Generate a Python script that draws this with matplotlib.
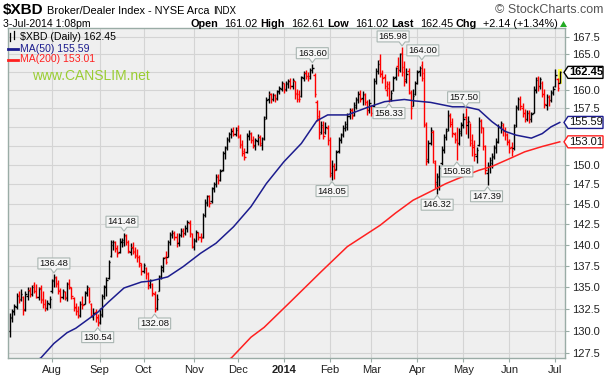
import pandas as pd
import matplotlib
matplotlib.use('Agg')
import matplotlib.pyplot as plt
from matplotlib.collections import LineCollection
from matplotlib.patches import Polygon, Rectangle
from matplotlib.lines import Line2D
from matplotlib.transforms import IdentityTransform
from matplotlib.ticker import FixedLocator, NullLocator

W, H = 606, 376
plt.rcParams['font.family'] = ['Liberation Sans', 'DejaVu Sans']

# trading days 5-Jul-2013 .. 3-Jul-2014
holidays = ['2013-09-02', '2013-11-28', '2013-12-25', '2014-01-01',
            '2014-01-20', '2014-02-17', '2014-04-18', '2014-05-26']
dates = pd.bdate_range('2013-07-05', '2014-07-03', freq='C', holidays=holidays)

# daily OHLC (one line per month)
opens = [
    130.0, 131.5, 132.1, 132.7, 134.1, 133.6, 133.8, 132.5, 134.0, 134.7, 134.2, 135.2, 134.5, 133.8, 134.9, 133.6, 133.1, 132.6, 133.0,
    134.5, 135.7, 136.1, 135.4, 134.7, 133.9, 134.4, 133.7, 135.5, 134.9, 133.7, 132.7, 132.3, 131.8, 133.1, 133.1, 134.3, 134.8, 133.1, 131.6, 132.1, 131.6,
    131.0, 131.9, 134.0, 135.1, 136.1, 138.7, 140.0, 140.3, 139.5, 139.2, 140.3, 140.4, 141.1, 140.3, 139.2, 139.8, 139.3, 138.7, 138.5, 137.6,
    136.9, 137.2, 136.5, 135.2, 135.4, 134.2, 132.6, 134.6, 136.3, 137.0, 138.5, 138.6, 140.3, 141.2, 141.5, 141.0, 140.2, 141.2, 141.8, 141.4, 142.0, 142.7, 141.3,
    139.8, 140.6, 141.5, 141.0, 141.0, 143.7, 145.2, 146.0, 145.4, 147.0, 147.5, 148.6, 148.1, 149.4, 151.5, 152.3, 153.3, 154.0, 154.6, 154.1,
    154.8, 153.7, 152.7, 151.8, 151.7, 153.8, 154.1, 153.3, 152.5, 153.1, 153.7, 152.6, 153.5, 156.3, 158.7, 159.4, 158.8, 159.3, 158.9, 159.7, 160.2,
    160.9, 160.1, 160.8, 161.3, 160.6, 161.2, 159.6, 159.4, 159.2, 161.6, 162.4, 162.0, 161.9, 162.8, 162.1, 158.4, 156.5, 154.3, 155.0, 154.3, 154.8,
    153.2, 148.9, 149.9, 149.5, 151.8, 153.2, 154.0, 154.8, 155.0, 156.4, 157.3, 156.6, 157.7, 158.6, 159.6, 158.9, 159.3, 158.3, 157.3,
    157.8, 157.8, 161.2, 162.7, 164.2, 162.4, 161.8, 160.0, 160.8, 158.8, 160.0, 161.8, 163.4, 162.8, 165.2, 163.2, 161.5, 162.6, 159.6, 157.8, 159.5,
    161.0, 162.6, 163.5, 162.4, 155.2, 150.8, 152.9, 154.3, 150.2, 147.8, 148.6, 150.3, 152.0, 153.6, 154.7, 156.4, 155.6, 154.0, 153.4, 152.9, 154.2,
    155.4, 156.3, 155.2, 155.6, 153.2, 152.6, 151.2, 152.6, 155.9, 154.9, 152.4, 149.0, 149.8, 150.3, 151.0, 152.2, 153.1, 155.0, 155.3, 154.6, 154.0,
    153.1, 152.3, 152.2, 155.2, 157.6, 158.8, 157.6, 156.9, 156.1, 156.8, 156.0, 156.9, 160.0, 161.6, 160.5, 161.0, 159.4, 158.0, 159.2, 158.6, 159.6,
    160.5, 161.5, 161.02,
]
highs = [
    132.0, 132.5, 133.0, 134.3, 134.5, 134.8, 134.0, 134.5, 135.0, 135.0, 135.3, 135.6, 135.4, 135.0, 135.2, 134.5, 133.6, 133.5, 134.0,
    136.0, 136.48, 136.3, 135.8, 134.9, 134.8, 134.6, 135.6, 135.9, 135.0, 133.8, 133.2, 132.8, 133.4, 134.0, 134.6, 135.3, 135.0, 133.2, 132.6, 132.5, 131.9,
    132.6, 134.2, 135.2, 136.2, 138.2, 140.6, 140.6, 140.5, 140.0, 140.8, 140.8, 141.48, 141.3, 140.6, 140.2, 140.3, 139.8, 139.5, 138.8, 137.8,
    137.8, 137.4, 136.8, 136.0, 135.5, 134.6, 134.2, 136.4, 137.6, 138.6, 139.3, 140.6, 141.6, 141.8, 141.7, 141.4, 141.5, 142.0, 142.0, 142.4, 143.0, 143.0, 141.5,
    140.8, 141.8, 141.6, 141.5, 143.9, 145.6, 146.2, 146.1, 147.2, 147.8, 148.8, 148.8, 149.5, 151.8, 152.4, 153.6, 154.3, 154.8, 155.0, 155.0,
    155.2, 154.0, 153.2, 152.2, 154.2, 154.6, 154.3, 153.8, 153.5, 154.0, 153.9, 153.6, 156.4, 159.0, 159.8, 159.6, 159.6, 159.5, 160.0, 160.6, 161.2,
    161.0, 161.2, 161.5, 161.6, 161.7, 161.3, 160.2, 160.0, 162.0, 162.6, 162.8, 162.5, 163.0, 163.6, 162.4, 158.6, 157.2, 155.8, 155.8, 155.6, 155.2,
    153.6, 150.6, 150.3, 152.0, 153.6, 154.2, 155.2, 155.8, 156.8, 157.6, 157.6, 158.4, 159.0, 159.9, 160.0, 159.8, 159.6, 158.6, 158.8,
    158.0, 161.6, 163.0, 164.2, 165.0, 162.8, 162.2, 161.2, 161.3, 160.0, 162.0, 163.2, 164.6, 165.2, 165.98, 164.0, 163.0, 163.0, 160.0, 160.2, 161.2,
    162.8, 163.4, 164.0, 163.0, 155.6, 153.3, 155.0, 154.6, 150.6, 149.0, 150.0, 152.4, 154.0, 154.8, 157.3, 156.8, 156.2, 154.3, 155.0, 154.8, 155.6,
    156.8, 157.5, 156.5, 155.5, 154.0, 153.3, 152.3, 156.3, 156.1, 155.0, 152.6, 150.4, 151.0, 151.6, 152.6, 153.5, 155.4, 155.8, 155.5, 155.0, 154.2,
    153.4, 153.0, 155.4, 158.0, 159.0, 159.2, 158.2, 157.4, 157.3, 157.2, 157.0, 160.5, 161.8, 162.0, 161.8, 161.2, 160.2, 159.4, 159.3, 160.0, 160.6,
    162.9, 161.6, 162.61,
]
lows = [
    129.3, 131.0, 131.8, 132.5, 133.2, 133.4, 131.8, 132.2, 133.5, 133.8, 134.0, 134.3, 133.7, 133.5, 133.2, 132.6, 132.3, 132.4, 132.6,
    134.3, 135.0, 135.0, 134.2, 133.3, 133.6, 133.5, 133.4, 134.8, 133.6, 132.3, 131.8, 131.4, 131.6, 132.5, 133.0, 134.0, 133.2, 131.6, 131.2, 131.0, 130.54,
    130.8, 131.6, 133.6, 134.0, 136.0, 138.5, 139.4, 139.2, 138.6, 139.0, 139.8, 139.9, 140.0, 139.0, 138.8, 138.9, 138.4, 138.0, 137.4, 136.4,
    136.6, 136.0, 134.8, 134.9, 134.0, 132.08, 132.4, 134.5, 136.0, 136.8, 137.7, 138.5, 140.0, 140.8, 140.6, 139.8, 139.9, 140.9, 141.0, 141.2, 141.6, 141.0, 139.6,
    139.4, 140.4, 140.6, 140.4, 140.8, 143.4, 144.8, 144.6, 145.2, 146.5, 147.2, 147.6, 147.9, 149.2, 150.8, 152.0, 153.0, 153.5, 153.8, 153.8,
    153.5, 152.2, 151.2, 150.6, 151.5, 153.3, 152.8, 152.2, 152.0, 152.6, 152.4, 151.9, 153.2, 156.0, 158.2, 158.2, 158.5, 158.3, 158.6, 159.4, 159.9,
    159.6, 159.8, 160.3, 160.1, 160.2, 158.8, 158.4, 158.3, 159.0, 161.2, 161.5, 161.3, 161.5, 162.3, 159.0, 155.8, 153.4, 154.0, 153.4, 154.0, 152.6,
    148.4, 148.05, 148.2, 149.4, 151.6, 152.8, 153.6, 154.4, 154.6, 156.0, 156.0, 156.4, 157.4, 158.2, 158.3, 158.0, 158.0, 156.6, 156.8,
    156.4, 157.6, 160.8, 162.2, 161.8, 161.0, 160.2, 159.2, 158.33, 158.5, 159.8, 161.4, 162.0, 162.5, 162.0, 160.6, 161.0, 159.4, 156.0, 157.8, 159.3,
    160.8, 162.0, 161.2, 155.0, 150.0, 150.3, 152.6, 150.2, 147.0, 146.32, 146.8, 150.0, 151.6, 153.2, 154.5, 155.0, 153.6, 152.8, 150.58, 152.6, 153.8,
    154.8, 154.0, 153.5, 152.4, 151.2, 150.5, 150.3, 152.4, 154.2, 152.0, 148.8, 147.39, 149.0, 149.6, 150.8, 151.6, 152.8, 154.2, 153.8, 153.2, 152.6,
    151.6, 151.2, 152.0, 155.0, 157.2, 157.3, 156.3, 155.6, 155.8, 155.5, 155.6, 156.8, 159.6, 159.8, 160.2, 159.0, 157.6, 157.3, 157.8, 158.4, 159.3,
    160.4, 159.9, 161.02,
]
closes = [
    131.6, 132.2, 132.8, 134.0, 133.5, 134.2, 132.4, 134.2, 134.6, 134.2, 135.0, 134.6, 133.9, 134.8, 133.5, 133.0, 132.6, 133.2, 133.6,
    135.8, 136.2, 135.5, 134.6, 133.8, 134.5, 133.9, 135.4, 135.0, 134.0, 132.6, 132.2, 131.7, 133.0, 132.9, 134.4, 135.0, 133.4, 131.8, 132.0, 131.5, 130.9,
    131.8, 134.0, 135.0, 135.8, 138.0, 140.3, 140.4, 139.6, 139.0, 140.5, 140.6, 141.2, 140.4, 139.3, 139.6, 139.2, 138.8, 138.6, 137.8, 136.9,
    137.6, 136.6, 135.2, 135.8, 134.3, 132.4, 133.6, 136.2, 137.4, 138.4, 138.0, 140.4, 141.3, 141.5, 141.0, 140.3, 141.2, 141.7, 141.4, 142.1, 142.8, 141.4, 139.9,
    140.5, 141.6, 140.9, 140.8, 143.6, 145.3, 146.0, 145.2, 146.9, 147.6, 148.5, 148.0, 149.2, 151.6, 152.2, 153.4, 154.0, 154.5, 154.1, 154.6,
    153.8, 152.6, 151.6, 151.0, 153.9, 154.2, 153.2, 152.6, 153.2, 153.6, 152.9, 153.4, 156.1, 158.6, 159.5, 158.7, 159.3, 158.8, 159.8, 160.3, 161.0,
    160.0, 160.9, 161.2, 160.5, 161.4, 159.4, 158.8, 158.7, 161.8, 162.3, 162.0, 161.7, 162.8, 163.1, 159.4, 156.2, 154.0, 155.2, 153.8, 155.0, 153.2,
    148.7, 149.8, 149.3, 151.7, 153.4, 153.9, 154.9, 155.4, 156.5, 157.2, 156.4, 157.9, 158.7, 159.4, 158.8, 159.4, 158.4, 157.2, 158.2,
    156.9, 161.3, 162.6, 163.6, 162.2, 161.6, 160.6, 160.3, 158.7, 159.6, 161.7, 163.0, 162.8, 165.0, 162.5, 161.2, 162.2, 159.7, 157.5, 159.2, 160.9,
    162.5, 163.0, 161.6, 155.4, 150.5, 152.8, 154.6, 150.5, 147.6, 148.4, 149.6, 152.1, 153.6, 154.4, 156.6, 155.4, 154.2, 153.2, 152.8, 154.5, 155.3,
    156.0, 155.6, 155.8, 152.9, 152.3, 151.4, 151.9, 155.8, 155.0, 152.5, 149.3, 149.9, 150.6, 151.2, 152.3, 153.0, 155.0, 155.5, 154.5, 153.9, 153.0,
    152.2, 151.8, 155.0, 157.7, 158.7, 157.8, 156.8, 156.0, 156.9, 156.0, 156.7, 160.2, 161.4, 160.6, 161.5, 159.5, 158.1, 159.1, 158.6, 159.7, 160.2,
    162.1, 160.31, 162.45,
]

# moving averages, read at selected trading days
ma50_day = [10, 14, 20, 26, 30, 40, 45, 52, 60, 64, 72, 79, 87, 94, 102, 110, 117, 125, 133, 140, 145,
            154, 163, 171, 180, 185, 192, 202, 208, 214, 220, 226, 231, 238, 243, 247, 251]
ma50 = [126.5, 127.0, 128.6, 129.8, 130.3, 132.1, 133.3, 134.9, 135.6, 135.7, 136.2, 137.4, 139.0, 140.2, 142.2,
        144.7, 147.6, 150.4, 152.8, 155.8, 156.6, 156.6, 157.6, 158.4, 158.7, 158.5, 158.3, 157.7, 157.7, 157.3,
        155.7, 154.4, 153.9, 153.5, 154.1, 155.0, 155.59]
ma200_day = [97, 101, 110, 116, 128, 142, 154, 169, 176, 184, 192, 199, 205, 214, 220, 228, 235, 243, 251]
ma200 = [126.5, 127.0, 129.3, 130.4, 133.3, 136.8, 139.8, 142.4, 143.9, 145.5, 146.6, 147.6, 148.3, 149.3,
         149.8, 150.8, 151.7, 152.4, 153.01]

# labelled highs / lows: (day, value, side, x shift px)
callouts = [(20, 136.48, 'hi', 0), (40, 130.54, 'lo', 0), (52, 141.48, 'hi', -2), (66, 132.08, 'lo', 0),
            (138, 163.60, 'hi', 0), (147, 148.05, 'lo', 0), (179, 165.98, 'hi', -9), (188, 164.00, 'hi', 1),
            (173, 158.33, 'lo', 0), (195, 146.32, 'lo', 0), (204, 150.58, 'lo', 0), (208, 157.50, 'hi', -2),
            (218, 147.39, 'lo', -1)]

yticks = [127.5 + 2.5 * k for k in range(17)]
hidden_ticks = [162.5, 155.0, 152.5]   # covered by the value tags

RED = '#ff0000'
NAVY = '#1c1c8e'
MARED = '#ff2020'
BORDER = '#9aaca6'

fig = plt.figure(figsize=(W / 100, H / 100), dpi=100)
fig.patch.set_facecolor('white')
ax = fig.add_axes([8.3 / W, 1 - 358 / H, (565 - 8.3) / W, (358 - 28.3) / H])
ax.set_facecolor('#efefef')
ax.set_yscale('log')
ax.set_ylim(127.0, 168.74)
n = len(closes)
ax.set_xlim(-0.82, 253.38)

month_idx = [i for i in range(1, n) if dates[i].month != dates[i - 1].month]
month_lab = ['2014' if dates[i].month == 1 else dates[i].strftime('%b') for i in month_idx]

ax.yaxis.set_major_locator(FixedLocator(yticks))
ax.yaxis.set_minor_locator(NullLocator())
ax.set_yticklabels(['' if v in hidden_ticks else '%.1f' % v for v in yticks])
ax.yaxis.tick_right()
ax.xaxis.set_major_locator(FixedLocator(month_idx))
ax.set_xticklabels(month_lab)
for t in ax.get_xticklabels():
    if t.get_text() == '2014':
        t.set_fontweight('bold')
ax.tick_params(axis='y', length=3, pad=2, labelsize=8, color=BORDER, labelcolor='#222222')
ax.tick_params(axis='x', length=3, pad=2, labelsize=8, color=BORDER, labelcolor='#222222')
ax.grid(True, color='#d4d4d4', lw=0.8)
ax.set_axisbelow(True)
for s in ax.spines.values():
    s.set_color(BORDER)
    s.set_linewidth(1.0)

# highlight on the latest bar
ax.add_patch(Rectangle((n - 2.0, lows[-1] - 0.2), 2.2, highs[-1] - lows[-1] + 0.5,
                       fc='#ffff4d', ec='none', zorder=2))

segs, cols = [], []
for i in range(n):
    c = 'black' if i == 0 or closes[i] >= closes[i - 1] else RED
    segs += [[(i, lows[i]), (i, highs[i])],
             [(i - 0.6, opens[i]), (i, opens[i])],
             [(i, closes[i]), (i + 0.6, closes[i])]]
    cols += [c] * 3
ax.add_collection(LineCollection(segs, colors=cols, linewidths=1.0, zorder=3))

ax.plot(ma50_day, ma50, color=NAVY, lw=1.1, zorder=4)
ax.plot(ma200_day, ma200, color=MARED, lw=1.1, zorder=4)

fig.canvas.draw()
rend = fig.canvas.get_renderer()
idt = IdentityTransform()


def callout(day, val, side, dx):
    X, Y = ax.transData.transform((day, val))
    bw, bh = 32, 11
    cx = X + dx
    if side == 'hi':
        B = Y + 5.5
        T = B + bh
        pts = [(cx - bw / 2, T), (cx + bw / 2, T), (cx + bw / 2, B), (X + 3, B), (X, B - 4), (X - 3, B), (cx - bw / 2, B)]
    else:
        T = Y - 5.5
        B = T - bh
        pts = [(cx - bw / 2, B), (cx + bw / 2, B), (cx + bw / 2, T), (X + 3, T), (X, T + 4), (X - 3, T), (cx - bw / 2, T)]
    ax.add_patch(Polygon(pts, closed=True, transform=idt, fc='#f6f6f6', ec='#a9b6b2', lw=0.8, zorder=6))
    ax.text(cx, (T + B) / 2, '%.2f' % val, transform=idt, ha='center', va='center',
            fontsize=6.8, color='#111111', zorder=7)


for c in callouts:
    callout(*c)


def tag(val, ec, tc, bold=False):
    _, Y = ax.transData.transform((0, val))
    X0 = ax.transAxes.transform((1, 0))[0]
    pts = [(X0 - 1, Y), (X0 + 3, Y + 6), (X0 + 38, Y + 6), (X0 + 38, Y - 6), (X0 + 3, Y - 6)]
    fig.add_artist(Polygon(pts, closed=True, transform=idt, fc='white', ec=ec, lw=1.0, zorder=5))
    fig.text((X0 + 21) / W, Y / H, '%.2f' % val, ha='center', va='center', fontsize=8,
             color=tc, fontweight='bold' if bold else 'normal', zorder=6)


tag(closes[-1], 'black', 'black', bold=True)
tag(ma50[-1], NAVY, '#111111')
tag(ma200[-1], MARED, '#111111')


def ftext(x, y, s, **kw):
    kw.setdefault('va', 'center')
    kw.setdefault('fontsize', 8)
    return fig.text(x / W, 1 - y / H, s, **kw)


def wpx(t):
    return t.get_window_extent(rend).width


# title line
t = ftext(3, 10, '$XBD', fontsize=11, fontweight='bold')
x = 3 + wpx(t) + 3
t = ftext(x, 10.5, 'Broker/Dealer Index - NYSE Arca', fontsize=7.9)
x += wpx(t) + 4
ftext(x, 11, 'INDX', fontsize=7)
ftext(603, 10, '\u00a9 StockCharts.com', ha='right', fontsize=9, color='#555555')

# quote line, laid out right to left so it ends before the arrow
ftext(3, 24, '3-Jul-2014 1:08pm', fontsize=7.6)
quote = [('Open', '161.02'), ('High', '162.61'), ('Low', '161.02'), ('Last', '162.45'), ('Chg', '+2.14 (+1.34%)')]
items = []
for lab, val in quote:
    items.append((ftext(0, 24, lab, fontsize=7.8, fontweight='bold'), 3))
    items.append((ftext(0, 24, val, fontsize=7.8), 6))
x = 558
for t, gap in reversed(items):
    x -= wpx(t)
    t.set_x(x / W)
    x -= gap
fig.add_artist(Polygon([(560, H - 27), (567, H - 27), (563.5, H - 21)], closed=True,
                       transform=idt, fc='#22aa22', ec='none'))

# legend inside the plot
for xb, y0, y1 in [(10, 33, 41), (14, 31, 39)]:
    fig.add_artist(Line2D([xb, xb], [H - y0, H - y1], transform=idt, color='black', lw=0.9))
ftext(20, 37, '$XBD (Daily) 162.45', fontsize=7.6)
fig.add_artist(Line2D([8, 18], [H - 48.5, H - 48.5], transform=idt, color=NAVY, lw=2))
ftext(20, 48.5, 'MA(50) 155.59', fontsize=7.6, color=NAVY)
fig.add_artist(Line2D([8, 18], [H - 59.5, H - 59.5], transform=idt, color=MARED, lw=2))
ftext(20, 59.5, 'MA(200) 153.01', fontsize=7.6, color=MARED)
ftext(32, 76, 'www.CANSLIM.net', fontsize=10, color='#9acd32')

fig.savefig('out.png', dpi=100)
